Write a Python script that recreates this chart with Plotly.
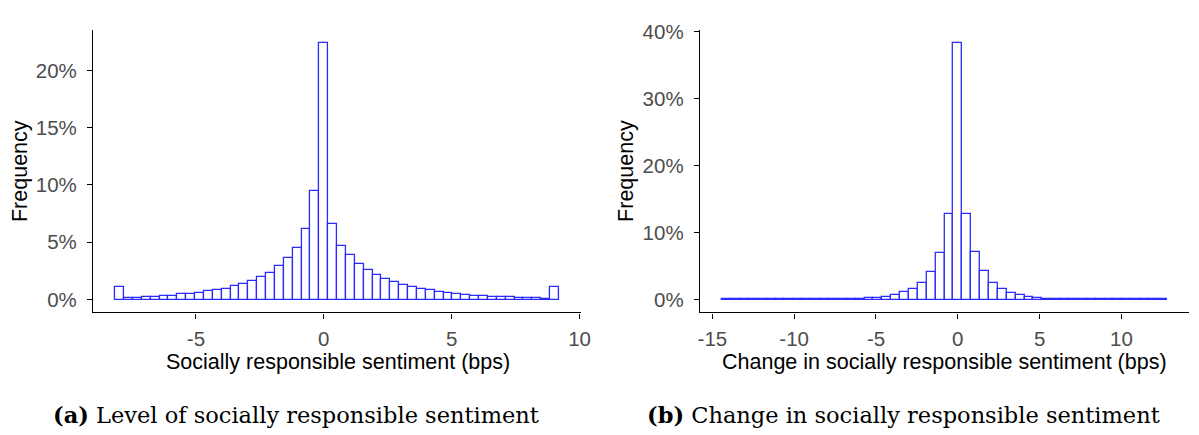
import numpy as np
import plotly.graph_objects as go

# ---------------- data ----------------
# Panel (a): level of socially responsible sentiment, 50 bins (bin index k, centre = k * width)
level_bin_width = 0.347
level_bin_index = list(range(-23, 27))
level_freq = [1.09, 0.14, 0.17, 0.22, 0.26, 0.29, 0.31, 0.45, 0.51, 0.60,
              0.71, 0.80, 0.94, 1.17, 1.37, 1.63, 1.97, 2.31, 2.89, 3.63,
              4.54, 6.17, 9.50, 22.40, 6.63, 4.69, 3.89, 3.09, 2.57, 2.11,
              1.80, 1.57, 1.26, 1.09, 0.92, 0.80, 0.68, 0.55, 0.45, 0.36,
              0.31, 0.28, 0.24, 0.21, 0.18, 0.15, 0.12, 0.09, 0.07, 1.10]

# Panel (b): change in socially responsible sentiment, 50 bins
change_bin_width = 0.5434
change_bin_index = list(range(-26, 24))
change_freq = [0.01, 0.01, 0.01, 0.01, 0.01, 0.02, 0.02, 0.02, 0.03, 0.03,
               0.04, 0.05, 0.06, 0.08, 0.10, 0.14, 0.20, 0.28, 0.42, 0.66,
               1.08, 1.60, 2.52, 4.15, 7.00, 12.80, 38.35, 12.75, 7.05, 4.20,
               2.50, 1.58, 1.00, 0.60, 0.38, 0.24, 0.15, 0.10, 0.07, 0.05,
               0.04, 0.03, 0.02, 0.02, 0.01, 0.01, 0.01, 0.01, 0.01, 0.01]

level_xticks = [-5, 0, 5, 10]
level_xlabels = ["-5", "0", "5", "10"]
level_yticks = [0, 5, 10, 15, 20]
level_ylabels = ["0%", "5%", "10%", "15%", "20%"]
change_xticks = [-15, -10, -5, 0, 5, 10]
change_xlabels = ["-15", "-10", "-5", "0", "5", "10"]
change_yticks = [0, 10, 20, 30, 40]
change_ylabels = ["0%", "10%", "20%", "30%", "40%"]

x_title_a = "Socially responsible sentiment (bps)"
x_title_b = "Change in socially responsible sentiment (bps)"
y_title = "Frequency"
caption_a = "<b>(a)</b> Level of socially responsible sentiment"
caption_b = "<b>(b)</b> Change in socially responsible sentiment"

# ---------------- figure ----------------
W, H = 1199, 435
BAR_LINE = "#2a2aff"
SANS = "Liberation Sans, Arial, sans-serif"
SERIF = "DejaVu Serif, serif"
TICK_COL = "#4d4d4d"

fig = go.Figure()

fig.add_trace(go.Bar(
    x=np.array(level_bin_index) * level_bin_width, y=level_freq,
    width=level_bin_width, xaxis="x", yaxis="y",
    marker=dict(color="white", line=dict(color=BAR_LINE, width=1.3)),
    showlegend=False, hoverinfo="x+y"))

fig.add_trace(go.Bar(
    x=np.array(change_bin_index) * change_bin_width, y=change_freq,
    width=change_bin_width, xaxis="x2", yaxis="y2",
    marker=dict(color="white", line=dict(color=BAR_LINE, width=1.3)),
    showlegend=False, hoverinfo="x+y"))


def px_x(p):
    return p / W


def px_y(p):
    return (H - p) / H


y_dom = [px_y(309.5), px_y(20.5)]

axis_common = dict(
    showline=True, linecolor="black", linewidth=1.4,
    ticks="outside", ticklen=5, tickwidth=1.3, tickcolor="black",
    showgrid=False, zeroline=False, tickmode="array",
    tickfont=dict(family=SANS, size=20.5, color=TICK_COL),
)

fig.update_layout(
    width=W, height=H,
    margin=dict(l=0, r=0, t=0, b=0),
    paper_bgcolor="white", plot_bgcolor="white",
    bargap=0, barmode="overlay",
    xaxis=dict(domain=[px_x(92), px_x(585)], range=[-9.02, 10.06],
               tickvals=level_xticks, ticktext=level_xlabels,
               anchor="y", ticklabelstandoff=3, **axis_common),
    yaxis=dict(domain=y_dom, range=[-1.12, 23.52],
               tickvals=level_yticks, ticktext=level_ylabels,
               anchor="x", ticklabelstandoff=6, **axis_common),
    xaxis2=dict(domain=[px_x(705), 1.0], range=[-15.76, 14.13],
                tickvals=change_xticks, ticktext=change_xlabels,
                anchor="y2", ticklabelstandoff=3, **axis_common),
    yaxis2=dict(domain=y_dom, range=[-1.92, 40.27],
                tickvals=change_yticks, ticktext=change_ylabels,
                anchor="x2", ticklabelstandoff=6, **axis_common),
)

title_font = dict(family=SANS, size=21.5, color="black")
cap_font = dict(family=SERIF, size=22.5, color="black")

annots = [
    dict(text=x_title_a, x=px_x(339), y=px_y(360), font=title_font),
    dict(text=x_title_b, x=px_x(952), y=px_y(360), font=title_font),
    dict(text=y_title, x=px_x(18), y=px_y(165), font=title_font, textangle=-90),
    dict(text=y_title, x=px_x(631), y=px_y(165), font=title_font, textangle=-90),
    dict(text=caption_a, x=px_x(297), y=px_y(415), font=cap_font),
    dict(text=caption_b, x=px_x(911), y=px_y(415), font=cap_font),
]
for a in annots:
    fig.add_annotation(xref="paper", yref="paper", xanchor="center", yanchor="middle",
                       showarrow=False, **a)

fig.write_html("out.html")
